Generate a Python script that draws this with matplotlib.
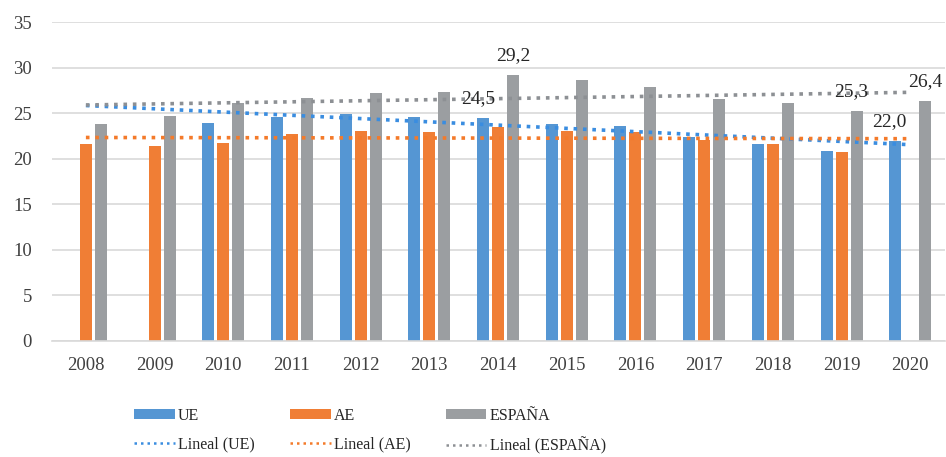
import matplotlib
matplotlib.use('Agg')
import matplotlib.pyplot as plt
import numpy as np
from matplotlib.patches import Patch
from matplotlib.lines import Line2D

plt.rcParams['font.family'] = ['Liberation Serif', 'DejaVu Serif']

# Datos
anios = ['2008', '2009', '2010', '2011', '2012', '2013', '2014',
         '2015', '2016', '2017', '2018', '2019', '2020']
ue = [np.nan, np.nan, 23.9, 24.6, 24.9, 24.6, 24.5, 23.8, 23.6, 22.4, 21.6, 20.9, 22.0]
ae = [21.6, 21.4, 21.7, 22.7, 23.1, 22.9, 23.5, 23.1, 23.0, 22.1, 21.6, 20.7, np.nan]
espana = [23.8, 24.7, 26.1, 26.7, 27.2, 27.3, 29.2, 28.7, 27.9, 26.6, 26.1, 25.3, 26.4]

# Etiquetas de datos: (serie, índice del año, desplazamiento x en px)
etiquetas = [('UE', 6, -5), ('ESPAÑA', 6, 0), ('ESPAÑA', 11, -5),
             ('UE', 12, -6), ('ESPAÑA', 12, 0)]

colores = {'UE': '#5596d3', 'AE': '#f07e35', 'ESPAÑA': '#9b9ea1'}
colores_tend = {'UE': '#3a8de0', 'AE': '#f47a2a', 'ESPAÑA': '#8d9094'}

series = {'UE': ue, 'AE': ae, 'ESPAÑA': espana}

fig = plt.figure(figsize=(9.46, 4.57), dpi=100)
ax = fig.add_axes([0.0545, 0.2545, 0.944, 0.6965])

x = np.arange(len(anios))
ancho = 0.175
paso = 0.218
desp = {'UE': -paso, 'AE': 0.0, 'ESPAÑA': paso}

for nombre, vals in series.items():
    ax.bar(x + desp[nombre], vals, width=ancho, color=colores[nombre], zorder=2)

# Líneas de tendencia lineal (como en Excel, sobre el índice de categoría)
for nombre, vals in series.items():
    v = np.array(vals, dtype=float)
    ok = ~np.isnan(v)
    coef = np.polyfit(x[ok], v[ok], 1)
    ax.plot(x, np.polyval(coef, x), linestyle=(0, (1, 1.6)), linewidth=2.6,
            color=colores_tend[nombre], zorder=3)

# Etiquetas de valores
for nombre, i, dx in etiquetas:
    val = series[nombre][i]
    ax.annotate(f'{val:.1f}'.replace('.', ','), (x[i] + desp[nombre], val),
                xytext=(dx * 0.72, 14), textcoords='offset points',
                ha='center', va='center', fontsize=14, color='#262626', zorder=4)

ax.set_xlim(-0.5, len(anios) - 0.5)
ax.set_ylim(0, 35)
ax.set_yticks(range(0, 36, 5))
ax.set_xticks(x)
ax.set_xticklabels(anios)
ax.tick_params(axis='both', length=0, labelsize=13.5, colors='#404040')
ax.tick_params(axis='x', pad=12)
ax.tick_params(axis='y', pad=14)
ax.grid(axis='y', color='#d9d9d9', linewidth=1.2, zorder=0)
ax.set_axisbelow(True)
for s in ['top', 'right', 'left']:
    ax.spines[s].set_visible(False)
ax.spines['bottom'].set_color('#d9d9d9')
ax.spines['bottom'].set_linewidth(1.2)

# Leyenda (orden por columnas)
handles = []
labels = []
for nombre in ['UE', 'AE', 'ESPAÑA']:
    handles.append(Patch(facecolor=colores[nombre]))
    labels.append(nombre)
    handles.append(Line2D([0], [0], color=colores_tend[nombre], linestyle=(0, (1, 1.6)),
                          linewidth=1.8))
    labels.append(f'Lineal ({nombre})')

fig.legend(handles, labels, ncol=3, loc='center left',
           bbox_to_anchor=(134 / 946, 0.057), borderaxespad=0, borderpad=0,
           frameon=False, fontsize=11.5, handlelength=2.55, handleheight=0.6,
           handletextpad=0.2, columnspacing=2.2, labelspacing=0.78,
           labelcolor='#262626')

fig.savefig('out.png', dpi=100)
